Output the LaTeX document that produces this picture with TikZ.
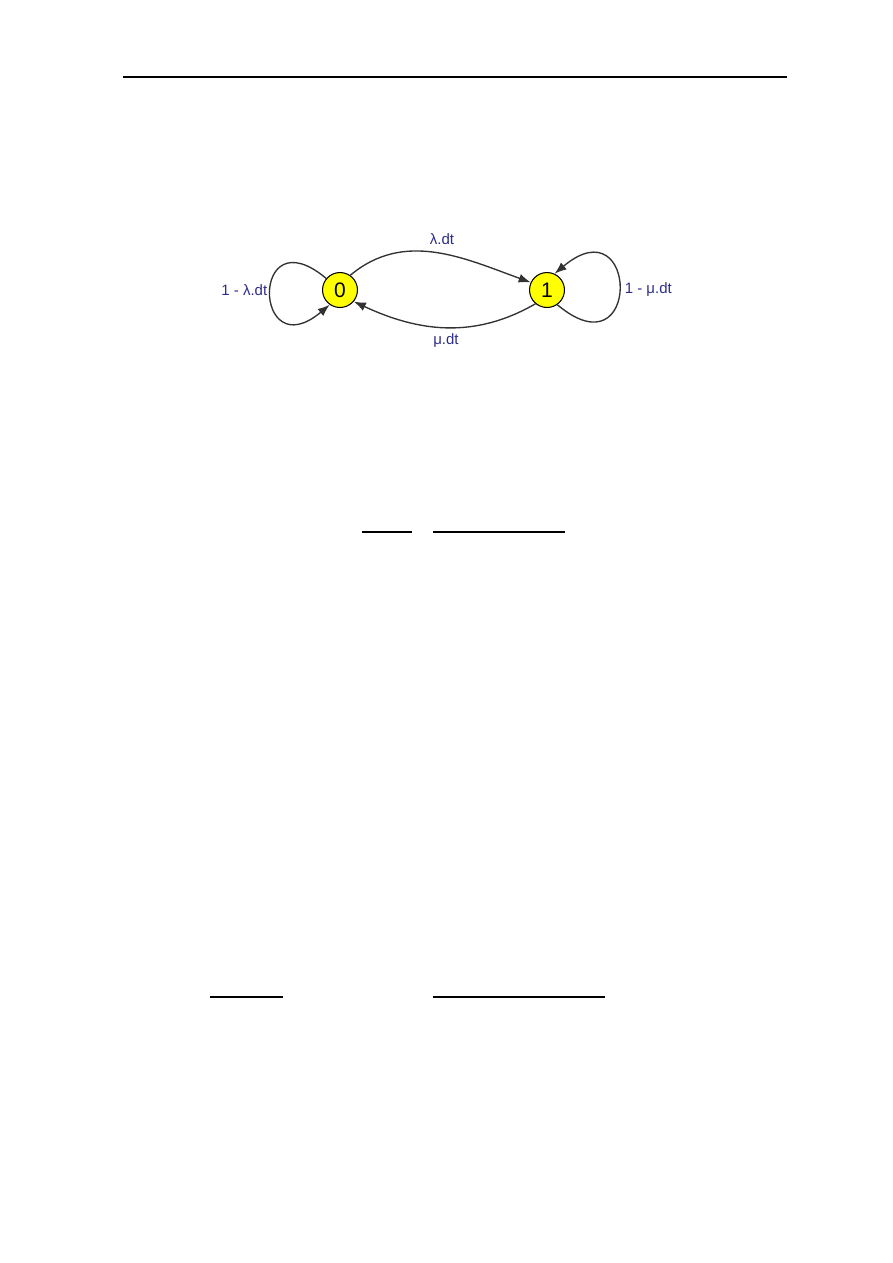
\documentclass[tikz,border=0pt]{standalone}
\usepackage{fontspec}
\setmainfont{Liberation Sans}
\usetikzlibrary{arrows.meta}

\definecolor{labelblue}{RGB}{45,45,140}
\definecolor{stateyellow}{RGB}{255,255,0}
\definecolor{edgegrey}{RGB}{50,50,50}

\begin{document}
\begin{tikzpicture}
[x=0.6667pt,y=0.6667pt,%
  statedecorate/.style={shape=circle,minimum size=23.3pt,inner sep=0pt,draw,
    line width=0.7pt,fill=stateyellow,font=\fontsize{14}{16}\selectfont},%
  edgedecorate/.style={-{Latex[length=8pt,width=6pt]},line width=0.9pt,draw=edgegrey},%
  labeldecorate/.style={text=labelblue,font=\fontsize{10}{12}\selectfont,inner sep=1pt},%
  ruledecorate/.style={line width=0.7pt}]
%%
%% Page frame
\useasboundingbox (0,0) rectangle (893,-1263);
%% Header rule
\draw[line width=1pt] (123,-77) -- (787,-77);
%%
%% States
\node (zero) at (340,-290) [statedecorate] {0};
\node (one)  at (547,-290) [statedecorate] {1};
%%
%% Transitions
\draw[edgedecorate] (zero.55) to[out=40,in=160] (one.155);
\draw[edgedecorate] (one.230) to[out=-150,in=-25] (zero.-40);
\draw[edgedecorate] (zero.140) .. controls +(140:100) and +(220:100) .. (zero.235);
\draw[edgedecorate] (one.-55) .. controls +(-40:110) and +(40:110) .. (one.65);
%%
%% Labels
\node (lambdalabel) at (442,-239) [labeldecorate] {λ.dt};
\node (mulabel)     at (446,-340) [labeldecorate] {μ.dt};
\node (stayzero)    at (269,-290) [labeldecorate,anchor=east] {1 - λ.dt};
\node (stayone)     at (623,-290) [labeldecorate,anchor=west] {1 - μ.dt};
%%
%% Fraction bars
\draw[ruledecorate] (362,-532) -- (412,-532);
\draw[ruledecorate] (433,-532) -- (565,-532);
\draw[ruledecorate] (210,-997) -- (283,-997);
\draw[ruledecorate] (433,-997) -- (605,-997);
\end{tikzpicture}
\end{document}
